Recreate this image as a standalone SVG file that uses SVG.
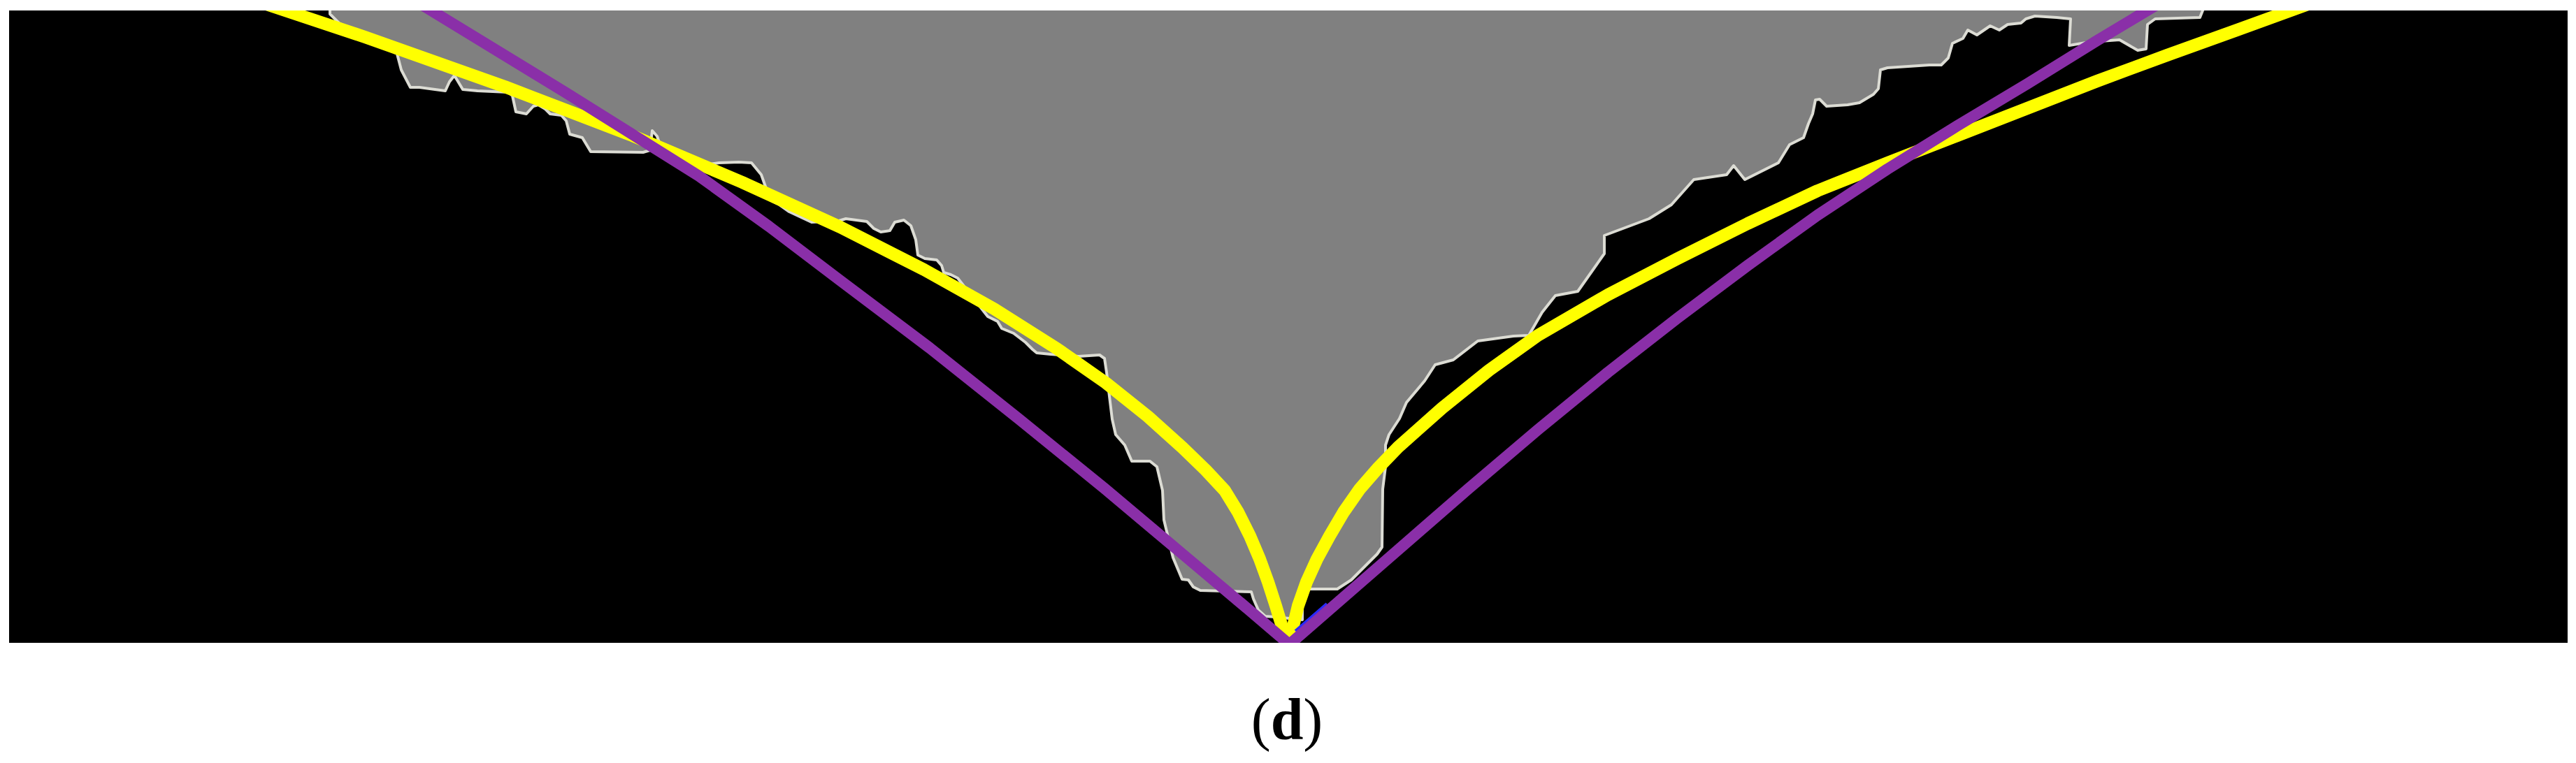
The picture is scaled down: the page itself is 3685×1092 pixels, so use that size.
<svg xmlns="http://www.w3.org/2000/svg" width="3685" height="1092" viewBox="0 0 3685 1092">
<style>
.bg{fill:#000000}
.region{fill:#808080;stroke:#dcdcd4;stroke-width:4;stroke-linejoin:round}
.fit{fill:none;stroke-linecap:butt;stroke-linejoin:round}
.yellow{stroke:#ffff00;stroke-width:18}
.purple{stroke:#8a2fa8;stroke-width:16}
.blue{stroke:#2a2aff;stroke-width:4}
.label{font-family:"Liberation Serif","Times New Roman",serif;font-size:84px;fill:#000000}
</style>
<defs>
<clipPath id="frame"><rect x="13" y="15" width="3660" height="905"/></clipPath>
</defs>
<rect id="page" x="0" y="0" width="3685" height="1092" fill="#ffffff"/>
<rect id="image" class="bg" x="13" y="15" width="3660" height="905"/>
<g id="scene" clip-path="url(#frame)">
<path id="flow-region" class="region" d="M472,10 L472,20 L485,33 L542,63 L568,77 L574,100 L587,125 L600,125 L637,130 L643,117 L650,108 L656,118 L662,128 L683,130 L727,132 L733,137 L738,160 L753,163 L763,152 L770,150 L780,156 L787,163 L803,165 L810,173 L815,192 L833,197 L845,217 L920,218 L930,215 L933,187 L940,195 L945,210 L962,215 L985,228 L1000,237 L1029,233 L1057,232 L1075,233 L1089,250 L1095,267 L1103,287 L1115,293 L1129,303 L1161,318 L1200,316 L1210,313 L1240,317 L1250,327 L1260,332 L1273,330 L1280,318 L1293,315 L1303,323 L1310,343 L1313,365 L1323,370 L1340,372 L1347,380 L1350,390 L1360,393 L1370,398 L1377,407 L1413,453 L1427,460 L1433,470 L1450,477 L1467,490 L1477,500 L1483,505 L1503,507 L1543,510 L1573,508 L1580,513 L1583,533 L1587,567 L1591,600 L1596,622 L1609,637 L1619,660 L1645,660 L1655,668 L1663,702 L1665,744 L1678,798 L1691,829 L1700,830 L1707,840 L1717,845 L1790,847 L1793,857 L1800,873 L1810,882 L1825,883 L1863,887 L1863,847 L1873,843 L1913,843 L1933,830 L1970,793 L1977,783 L1978,700 L1982,668 L1982,637 L1987,622 L2002,599 L2012,576 L2038,545 L2053,522 L2079,515 L2114,488 L2165,481 L2187,480 L2206,447 L2225,423 L2257,417 L2295,363 L2295,337 L2359,313 L2391,293 L2423,257 L2470,250 L2480,237 L2496,257 L2544,233 L2560,207 L2580,197 L2587,177 L2593,163 L2597,143 L2603,142 L2613,152 L2643,150 L2660,147 L2680,135 L2687,127 L2690,100 L2700,97 L2760,93 L2777,93 L2787,83 L2793,62 L2808,55 L2815,43 L2828,50 L2847,37 L2860,43 L2872,35 L2891,33 L2898,27 L2911,23 L2942,25 L2962,27 L2960,65 L2990,60 L3032,57 L3058,72 L3070,70 L3072,35 L3083,27 L3147,25 L3153,10 Z"/>
</g>
<g id="connectors" clip-path="url(#frame)">
<path id="yellow-left" class="fit yellow" d="M342,-7 L522,53 L722,124 L902,193 L1062,261 L1202,325 L1322,386 L1422,442 L1512,499 L1582,548 L1642,596 L1692,641 L1725,673 L1752,702 L1771,733 L1788,767 L1802,800 L1814,833 L1825,867 L1835,900 L1842,925"/>
<path id="yellow-right" class="fit yellow" d="M1842,925 L1849,900 L1857,867 L1869,833 L1884,800 L1902,767 L1922,733 L1945,700 L1972,669 L2000,640 L2063,584 L2130,530 L2200,480 L2300,422 L2400,370 L2500,320 L2600,273 L2700,233 L2800,194 L2900,155 L3000,116 L3100,79 L3200,43 L3310,3"/>
<path id="blue-edge" class="fit blue" d="M1853,903 L1898,864"/>
<path id="purple-left" class="fit purple" d="M599,4 L625,20 L810,133 L1000,252 L1100,324 L1200,400 L1330,498 L1458,600 L1580,699 L1700,800 L1775,863 L1843,921 L1850,927"/>
<path id="purple-right" class="fit purple" d="M1838,928 L1846,921 L2000,787 L2100,700 L2200,615 L2300,533 L2400,455 L2500,380 L2600,308 L2700,242 L2800,180 L2900,120 L3000,58 L3100,-2"/>
</g>
<text id="caption" class="label" x="1841" y="1058" text-anchor="middle">(<tspan font-weight="bold">d</tspan>)</text>
</svg>
